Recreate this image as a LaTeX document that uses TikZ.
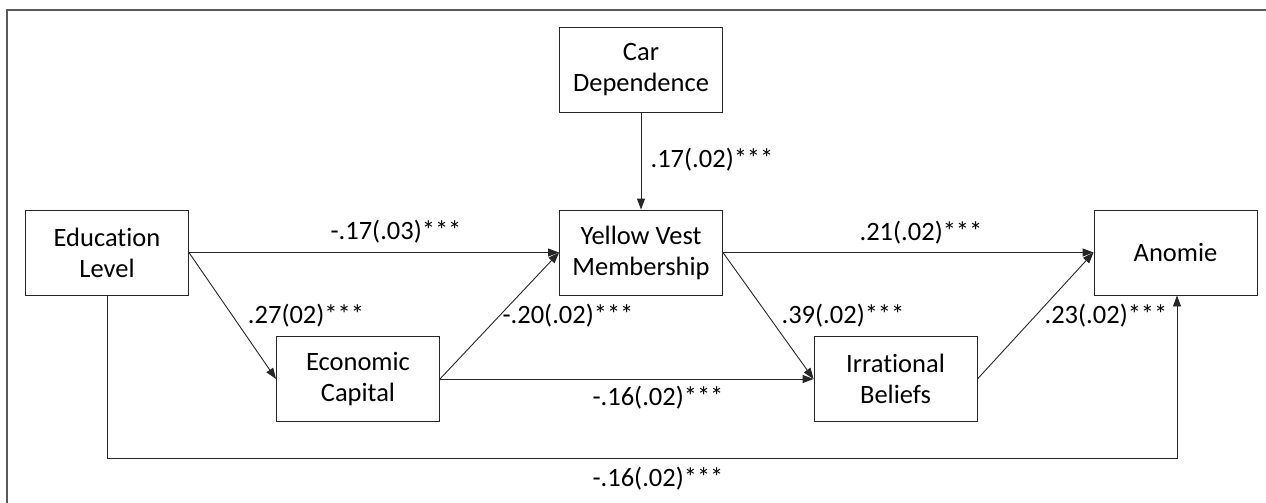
\documentclass[tikz,border=0pt]{standalone}
\usepackage{fontspec}
\setmainfont[Ligatures=CommonOff]{Carlito}
\usetikzlibrary{arrows.meta}
\begin{document}
\begin{tikzpicture}[x=1pt,y=-1pt,
  box/.style={draw=black!85,line width=0.9pt,minimum width=163pt,minimum height=85pt,align=center,inner sep=0pt,font=\fontsize{26.5}{31}\selectfont},
  lbl/.style={font=\fontsize{26.5}{31}\selectfont,inner sep=0pt,anchor=center},
  arr/.style={draw=black!85,line width=0.9pt,-{Triangle[length=11pt,width=8pt]}},
  frame/.style={draw=black!65,line width=1.8pt}]
\useasboundingbox (0,0) rectangle (1266,503);
\draw[frame] (7,503) -- (7,10) -- (1266,10);
\node[box] (edu) at (107,252.5) {Education\\Level};
\node[box] (eco) at (358,379) {Economic\\Capital};
\node[box] (car) at (641,69.5) {Car\\Dependence};
\node[box] (yv) at (641,252.5) {Yellow Vest\\Membership};
\node[box] (irr) at (895.5,379) {Irrational\\Beliefs};
\node[box] (ano) at (1175.5,252.5) {Anomie};
\coordinate (c1) at (107,458);
\coordinate (c2) at (1177,458);
\draw[arr] (edu.east) -- (yv.west);
\draw[arr] (edu.east) -- (eco.west);
\draw[arr] (car.south) -- (yv.north);
\draw[arr] (eco.east) -- (yv.west);
\draw[arr] (eco.east) -- (irr.west);
\draw[arr] (yv.east) -- (irr.west);
\draw[arr] (yv.east) -- (ano.west);
\draw[arr] (irr.east) -- (ano.west);
\draw[arr] (edu.south) -- (c1) -- (c2) -- (c2 |- ano.south);
\node[lbl] (l1) at (396,232) {-.17(.03)***};
\node[lbl] (l2) at (306,316) {.27(02)***};
\node[lbl] (l3) at (712,160) {.17(.02)***};
\node[lbl] (l4) at (568,316) {-.20(.02)***};
\node[lbl] (l5) at (921,233) {.21(.02)***};
\node[lbl] (l6) at (843,316) {.39(.02)***};
\node[lbl] (l7) at (1106,316) {.23(.02)***};
\node[lbl] (l8) at (658,398) {-.16(.02)***};
\node[lbl] (l9) at (658,479) {-.16(.02)***};
\end{tikzpicture}
\end{document}
